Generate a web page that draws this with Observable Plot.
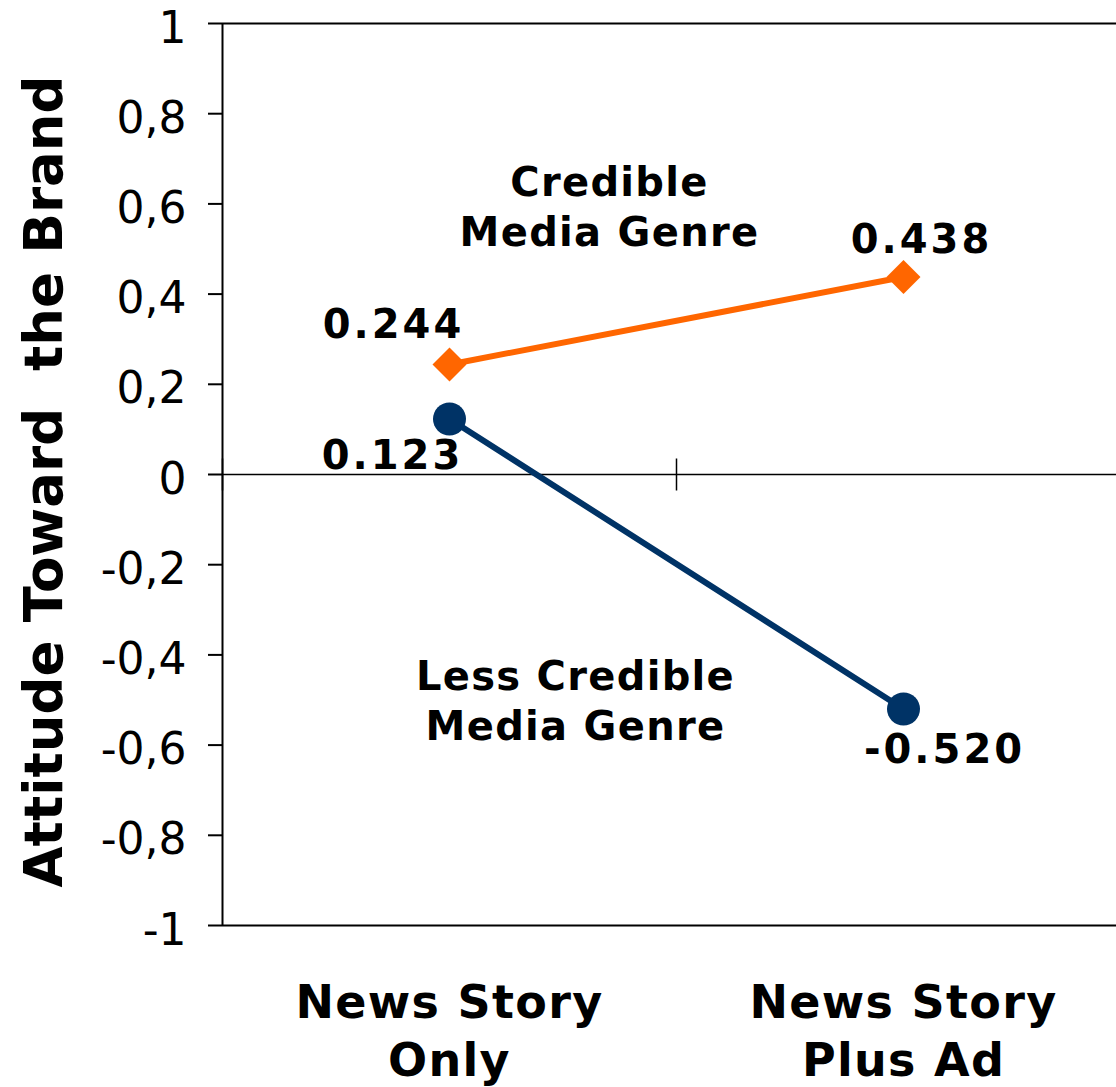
<!DOCTYPE html>
<html>
<head>
<meta charset="utf-8">
<script src="https://cdn.jsdelivr.net/npm/d3@7"></script>
<script src="https://cdn.jsdelivr.net/npm/@observablehq/plot@0.6"></script>
<style>
  html, body { margin: 0; padding: 0; background: #fff; }
  text[aria-label="value label"] { letter-spacing: 3px; }
  text[aria-label="series name"],
  text[aria-label="category label"] { letter-spacing: 1.3px; }
</style>
</head>
<body>
<div id="chart"></div>
<script>
// Categories (conditions) on the horizontal axis
const categories = ["News Story\nOnly", "News Story\nPlus Ad"];

// Series names and their mean attitude scores
const seriesNames = ["Credible\nMedia Genre", "Less Credible\nMedia Genre"];
const credible = [0.244, 0.438];
const lessCredible = [0.123, -0.520];

// Value axis ticks and their printed labels (comma decimal)
const yTicks = [-1, -0.8, -0.6, -0.4, -0.2, 0, 0.2, 0.4, 0.6, 0.8, 1];
const yTickLabels = ["-1", "-0,8", "-0,6", "-0,4", "-0,2", "0", "0,2", "0,4", "0,6", "0,8", "1"];
const yTitle = "Attitude Toward  the Brand";

const seriesColors = ["#FF6600", "#003366"];
const seriesValues = [credible, lessCredible];

// Long table: one row per series × category
const rows = seriesValues.flatMap((vals, s) =>
  vals.map((v, i) => ({series: seriesNames[s], s, i, pos: i + 0.5, value: v}))
);
// Midpoint of each series, used to anchor its name
const mids = seriesValues.map((vals, s) => ({
  name: seriesNames[s],
  pos: d3.mean(vals, (_, i) => i + 0.5),
  value: d3.mean(vals)
}));
// Category boundaries carry the small cross ticks on the zero line
const boundaries = d3.range(categories.length + 1);

// A vertical bar symbol of half-length r
const vTick = {
  draw(ctx, size) {
    const h = Math.sqrt(size / Math.PI);
    ctx.moveTo(0, -h);
    ctx.lineTo(0, h);
  }
};

const fmt = v => v.toFixed(3);
const pick = (s, i) => rows.filter(d => d.s === s && d.i === i);

const valueLabel = (s, i, dx, dy) =>
  Plot.text(pick(s, i), {
    x: "pos", y: "value", text: d => fmt(d.value),
    dx, dy, lineAnchor: "bottom", textAnchor: "middle",
    fontSize: 40, fontWeight: "bold", fill: "black",
    ariaLabel: () => "value label"
  });

const seriesName = (s, dx, dy) =>
  Plot.text([mids[s]], {
    x: "pos", y: "value", text: "name",
    dx, dy, lineAnchor: "bottom", textAnchor: "middle", lineHeight: 1.25,
    fontSize: 40, fontWeight: "bold", fill: "black",
    ariaLabel: () => "series name"
  });

const chart = Plot.plot({
  width: 1116,
  height: 1087,
  marginLeft: 222,
  marginRight: 0,
  marginTop: 23,
  marginBottom: 162,
  x: {domain: [0, categories.length], range: [222, 1130], axis: null},
  y: {domain: [-1, 1]},
  color: {domain: seriesNames, range: seriesColors},
  style: {fontFamily: "'DejaVu Sans', Verdana, sans-serif", background: "#fff", color: "black", overflow: "visible"},
  marks: [
    // plot area edges and value axis line
    Plot.ruleY([-1, 1], {stroke: "black", strokeWidth: 2}),
    Plot.ruleX([0], {stroke: "black", strokeWidth: 2}),
    // zero line with category ticks
    Plot.ruleY([0], {stroke: "black", strokeWidth: 1.5}),
    Plot.dot(boundaries, {x: d => d, y: () => 0, symbol: vTick, r: 16, stroke: "black", fill: "none", strokeWidth: 1.5}),
    // value axis: ticks, then labels
    Plot.axisY({ticks: yTicks, tickSize: 14, tickFormat: () => "", strokeWidth: 2, label: null}),
    Plot.axisY({ticks: yTicks, tickSize: 0, tickPadding: 36, tickFormat: d => yTickLabels[yTicks.indexOf(d)],
      fontSize: 44, dy: 5, label: null}),
    // series lines and markers
    Plot.line(rows, {x: "pos", y: "value", z: "series", stroke: "series", strokeWidth: 6}),
    Plot.dot(rows.filter(d => d.s === 0), {x: "pos", y: "value", symbol: "diamond2", r: 15.3, fill: seriesColors[0], stroke: "none"}),
    Plot.dot(rows.filter(d => d.s === 1), {x: "pos", y: "value", symbol: "circle", r: 16.5, fill: seriesColors[1], stroke: "none"}),
    // data labels
    valueLabel(0, 0, -56, -26),
    valueLabel(1, 0, -57, 50),
    valueLabel(0, 1, 18, -24),
    valueLabel(1, 1, 41, 54),
    // series names
    seriesName(0, -67, -75),
    seriesName(1, -101, 176),
    // category labels below the plot
    Plot.text(categories, {
      x: (d, i) => i + 0.5, text: d => d, frameAnchor: "bottom",
      lineAnchor: "top", textAnchor: "middle", dy: 51, lineHeight: 1.26,
      fontSize: 46, fontWeight: "bold", fill: "black", ariaLabel: () => "category label"
    }),
    // value axis title
    Plot.text([yTitle], {
      text: d => d, frameAnchor: "left", rotate: -90, lineAnchor: "bottom", textAnchor: "middle",
      dx: -161, dy: 7, fontSize: 53, fontWeight: "bold", fill: "black"
    })
  ]
});

document.getElementById("chart").appendChild(chart);
</script>
</body>
</html>
